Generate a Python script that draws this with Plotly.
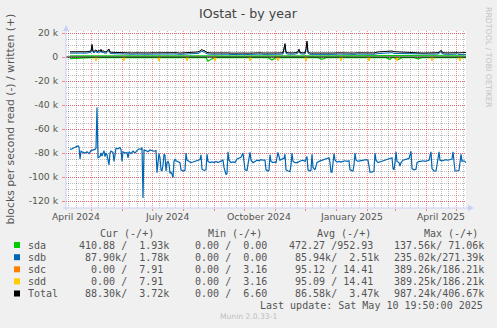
import pandas as pd
import plotly.graph_objects as go

# Time window of the yearly graph (400 days ending at the last update)
START = pd.Timestamp("2024-04-05 20:00")
END = pd.Timestamp("2025-05-10 20:00")

# sdb read rate (drawn downwards), in thousands of blocks/s, keyed by day offset from START
READ_DAYS = [4, 5, 7, 9, 11, 12, 13, 14, 15, 17, 19, 21, 23, 25, 27, 29, 30, 31, 32, 34,
             35, 36, 38, 39, 40, 41, 43, 44, 45, 47, 48, 49, 50, 52, 54, 55, 56, 57, 59, 61,
             62, 63, 65, 67, 69, 71, 73, 75, 76, 77, 78, 80, 82, 84, 86, 88, 90, 91, 92, 93,
             94, 95, 96, 97, 98, 99, 100, 101, 102, 103, 104, 105, 106, 107, 108, 109, 110, 112, 114, 115,
             117, 119, 120, 121, 123, 125, 127, 129, 131, 133, 134, 135, 136, 138, 140, 141, 142, 144, 146, 148,
             150, 152, 154, 156, 157, 158, 160, 161, 162, 163, 165, 167, 169, 171, 173, 175, 177, 178, 179, 181,
             182, 184, 185, 187, 189, 191, 193, 195, 197, 199, 200, 202, 203, 204, 205, 207, 209, 210, 212, 213,
             214, 216, 218, 219, 220, 222, 224, 225, 226, 227, 229, 231, 233, 235, 237, 239, 241, 242, 244, 245,
             246, 247, 249, 251, 253, 255, 257, 259, 261, 263, 264, 265, 266, 267, 268, 269, 271, 273, 275, 277,
             279, 281, 283, 284, 286, 287, 288, 289, 290, 292, 294, 296, 298, 300, 302, 303, 304, 306, 308, 309,
             310, 312, 314, 316, 318, 320, 322, 324, 326, 327, 328, 329, 330, 331, 333, 334, 335, 337, 339, 341,
             343, 345, 346, 348, 350, 351, 353, 355, 357, 359, 361, 363, 365, 366, 368, 370, 371, 373, 374, 376,
             378, 380, 382, 384, 386, 387, 388, 389, 391, 393, 395, 396, 398, 400]
SDB_READ_K = [-76.5, -77, -76, -75.5, -74.5, -74, -75, -85, -78.5, -79.5, -80, -79, -80.5, -78, -77.5, -77, -76, -42, -84, -83,
              -80, -82.5, -78, -83, -80, -81.5, -90, -80, -78.5, -79.5, -87, -80, -76, -76.5, -75.5, -77, -87, -79, -80, -79.5,
              -84, -79, -80.5, -78.5, -80, -78, -76.5, -77, -75.5, -117.5, -77.5, -78, -79, -77.5, -78, -78.5, -78, -96.5, -88, -80.5,
              -84, -94, -95, -90, -81, -82, -95, -88, -87, -89, -97, -96, -97.5, -100.5, -87, -85, -86.5, -87, -88, -94,
              -95, -94.5, -80, -86, -87, -88, -87.5, -87, -86.5, -86, -85.5, -81.5, -93.5, -94.5, -94, -81, -87, -88, -87.5, -88,
              -87, -88, -87, -86, -86, -92, -98, -97, -79, -86, -88, -87.5, -88, -85, -84, -83.5, -80, -88, -94, -94.5,
              -90, -79.5, -86, -88, -87, -86, -86.5, -85.5, -86, -86, -94, -95, -94.5, -81.5, -87, -88, -87.5, -88, -79.5, -84,
              -86, -85, -84.5, -81, -94, -95, -95.5, -90, -80, -87, -88, -88, -87, -86.5, -86, -87, -83, -94, -95, -94.5,
              -81, -92, -94, -88, -87, -86.5, -86, -85.5, -85, -84, -88, -96, -96, -90, -80.5, -86, -87.5, -87, -87.5, -87,
              -86.5, -87, -86.5, -94, -95, -95, -90, -80, -86, -87, -86.5, -86, -86, -85.5, -86, -92, -96, -96, -95, -80,
              -86, -88, -87.5, -87, -86.5, -86, -85.5, -85, -84, -93, -94, -88, -79, -87, -88, -91, -88, -86, -85.5, -85,
              -84.5, -78.5, -93, -94, -93.5, -88, -87, -87, -86.5, -87, -86.5, -86, -79, -93, -95, -95, -90, -79, -86, -86.5,
              -86, -85.5, -86, -85.5, -85, -79, -88, -95, -95, -94.5, -81, -87, -86.5, -87.9]

# Write rates (drawn upwards) and sda read, thousands of blocks/s
WRITE_DAYS = [4, 8, 12, 16, 20, 24, 25, 26, 27, 28, 30, 31, 33, 34, 35, 36, 37, 38, 40, 43,
              44, 46, 50, 54, 58, 62, 66, 70, 74, 78, 82, 86, 90, 94, 98, 102, 106, 110, 114, 118,
              122, 126, 130, 132, 134, 136, 137, 138, 140, 142, 146, 150, 154, 158, 162, 166, 170, 174, 178, 182,
              186, 190, 194, 198, 202, 206, 210, 214, 217, 218, 219, 220, 222, 226, 230, 232, 233, 234, 236, 239,
              240, 241, 242, 244, 248, 252, 256, 260, 264, 268, 272, 276, 280, 284, 288, 292, 296, 300, 304, 308,
              312, 316, 320, 324, 326, 328, 332, 336, 340, 344, 348, 352, 356, 360, 364, 368, 372, 374, 375, 376,
              378, 382, 386, 390, 391, 392, 396, 400]
TOTAL_WRITE_K = [4.3, 4.5, 4.2, 4.4, 4.3, 4.5, 5.0, 10.5, 5.0, 4.6, 6.0, 4.5, 5.5, 4.8, 6.4, 4.5, 5.5, 4.4, 4.3, 6.7,
                 4.2, 3.9, 3.7, 3.6, 3.5, 3.6, 3.4, 3.5, 3.3, 3.6, 3.4, 3.5, 3.6, 3.4, 3.3, 3.5, 3.4, 3.6, 3.3, 3.5,
                 3.4, 3.6, 3.5, 4.2, 5.0, 6.4, 5.2, 5.6, 4.2, 3.6, 3.4, 3.5, 3.3, 3.6, 3.4, 3.2, 3.4, 3.6, 3.3, 3.2,
                 3.4, 3.3, 3.5, 3.3, 3.2, 3.4, 3.3, 3.4, 3.6, 7.0, 11.2, 4.0, 3.5, 3.4, 3.6, 4.5, 6.5, 4.0, 3.5, 3.6,
                 7.0, 13.3, 4.2, 3.3, 3.2, 3.4, 3.3, 3.2, 3.4, 3.3, 3.5, 3.3, 3.2, 3.4, 3.3, 3.5, 3.4, 3.3, 3.2, 3.4,
                 4.2, 4.4, 4.3, 4.5, 5.0, 4.4, 4.3, 4.5, 4.4, 4.2, 3.8, 3.5, 3.3, 3.4, 3.3, 3.5, 3.6, 4.5, 5.6, 4.2,
                 3.5, 3.4, 3.3, 3.6, 4.3, 3.4, 3.6, 3.72]
SDB_WRITE_K = [3.2, 3.4, 3.1, 3.3, 3.2, 3.4, 3.9, 8.8, 3.9, 3.5, 4.8, 3.4, 4.3, 3.7, 5.2, 3.4, 4.4, 3.3, 3.2, 5.5,
               3.1, 2.8, 2.6, 2.5, 2.4, 2.5, 2.3, 2.4, 2.2, 2.5, 2.3, 2.4, 2.5, 2.3, 2.2, 2.4, 2.3, 2.5, 2.2, 2.4,
               2.3, 2.5, 2.4, 3.0, 3.8, 5.1, 4.0, 4.4, 3.0, 2.5, 2.3, 2.4, 2.2, 2.5, 2.3, 2.1, 2.3, 2.5, 2.2, 2.1,
               2.3, 2.2, 2.4, 2.2, 2.1, 2.3, 2.2, 2.3, 2.5, 5.6, 9.6, 2.9, 2.4, 2.3, 2.5, 3.4, 5.2, 2.9, 2.4, 2.5,
               5.7, 11.6, 3.1, 2.2, 2.1, 2.3, 2.2, 2.1, 2.3, 2.2, 2.4, 2.2, 2.1, 2.3, 2.2, 2.4, 2.3, 2.2, 2.1, 2.3,
               2.8, 3.0, 2.9, 3.1, 3.6, 3.0, 2.9, 3.1, 3.0, 2.9, 2.6, 2.4, 2.2, 2.3, 2.2, 2.4, 2.5, 3.4, 4.4, 3.1,
               2.4, 2.3, 2.2, 2.4, 3.1, 2.2, 2.0, 1.78]
SDA_WRITE_K = [1.0, 1.0, 1.0, 1.0, 1.0, 1.0, 1.0, 1.6, 1.0, 1.0, 1.1, 1.0, 1.1, 1.0, 1.1, 1.0, 1.0, 1.0, 1.0, 1.1,
               1.0, 1.0, 1.0, 1.0, 1.0, 1.0, 1.0, 1.0, 1.0, 1.0, 1.0, 1.0, 1.0, 1.0, 1.0, 1.0, 1.0, 1.0, 1.0, 1.0,
               1.0, 1.0, 1.0, 1.1, 1.1, 1.2, 1.1, 1.1, 1.1, 1.0, 1.0, 1.0, 0.9, 1.0, 1.0, 0.9, 1.0, 1.0, 0.9, 0.9,
               1.0, 0.9, 1.0, 0.9, 0.9, 1.0, 0.9, 1.0, 1.0, 1.3, 1.5, 1.0, 1.0, 0.9, 1.0, 1.0, 1.2, 1.0, 1.0, 1.0,
               1.2, 1.6, 1.0, 0.9, 0.9, 1.0, 0.9, 0.9, 1.0, 0.9, 1.0, 0.9, 0.9, 1.0, 0.9, 1.0, 1.0, 0.9, 0.9, 1.0,
               1.2, 1.2, 1.2, 1.2, 1.3, 1.2, 1.2, 1.2, 1.2, 1.1, 1.0, 1.0, 0.9, 1.0, 0.9, 1.0, 1.0, 1.0, 1.1, 1.0,
               1.0, 1.0, 0.9, 1.1, 1.1, 1.1, 1.5, 1.93]
SDA_READ_K = [-1.3, -1.1, -0.6, -0.5, -0.5, -0.5, -0.5, -0.6, -0.5, -0.5, -0.5, -0.5, -0.5, -0.5, -0.5, -0.5, -0.5, -0.5, -0.5, -0.5,
              -0.5, -0.5, -0.5, -0.5, -0.5, -0.5, -0.5, -0.5, -0.5, -0.5, -0.5, -0.5, -0.5, -0.5, -0.5, -0.5, -0.5, -0.5, -0.5, -0.5,
              -0.5, -0.5, -0.5, -0.5, -0.5, -0.6, -0.5, -0.5, -0.5, -3.5, -1.5, -0.5, -0.5, -0.5, -0.5, -0.5, -0.5, -0.5, -0.5, -0.5,
              -0.5, -0.5, -0.5, -0.5, -0.5, -2.4, -0.5, -0.5, -0.5, -0.5, -0.6, -0.5, -0.5, -0.5, -0.5, -0.5, -0.5, -0.5, -0.5, -0.5,
              -0.5, -0.6, -0.5, -0.5, -0.5, -0.5, -2.0, -0.5, -0.5, -0.5, -0.5, -0.5, -0.5, -0.5, -0.5, -0.5, -0.5, -0.5, -0.5, -0.5,
              -0.5, -0.5, -0.5, -2.0, -0.5, -0.5, -2.2, -0.5, -0.5, -0.5, -0.5, -1.5, -0.5, -0.5, -0.5, -0.5, -0.5, -0.5, -0.5, -0.5,
              -0.5, -0.5, -0.5, -0.5, -0.5, -0.5, -0.5, -0.41]

# Monthly sdc / sdd read bursts (daily averages), thousands of blocks/s
SPIKE_DAYS = [30, 58, 93, 121, 149, 184, 212, 240, 275, 303, 331, 366, 394]
SDC_READ_K = [-3.0, -2.9, -3.1, -2.9, -3.0, -2.9, -3.0, -3.1, -2.9, -3.0, -2.9, -3.0, -3.0]
SDD_READ_K = [-3.0, -2.9, -3.1, -2.9, -3.0, -2.9, -3.0, -3.1, -2.9, -3.0, -2.9, -3.0, -3.0]

Y_TICKS = [-120000, -100000, -80000, -60000, -40000, -20000, 0, 20000]
Y_TICK_TEXT = ["-120 k", "-100 k", "-80 k", "-60 k", "-40 k", "-20 k", "0", "20 k"]
X_LABEL_DATES = ["2024-04-16", "2024-07-16", "2024-10-16", "2025-01-16", "2025-04-16"]
X_LABELS = ["April 2024", "July 2024", "October 2024", "January 2025", "April 2025"]

# Legend table
LEG_NAMES = ["sda", "sdb", "sdc", "sdd", "Total"]
LEG_COLORS = ["#00CC00", "#0066B3", "#FF8000", "#FFCC00", "#000000"]
LEG_CUR = ["410.88 /  1.93k", " 87.90k/  1.78k", "  0.00 /  7.91", "  0.00 /  7.91", " 88.30k/  3.72k"]
LEG_MIN = ["  0.00 /  0.00", "  0.00 /  0.00", "  0.00 /  3.16", "  0.00 /  3.16", "  0.00 /  6.60"]
LEG_AVG = ["472.27 /952.93", " 85.94k/  2.51k", " 95.12 / 14.41", " 95.09 / 14.41", " 86.58k/  3.47k"]
LEG_MAX = ["137.56k/ 71.06k", "235.02k/271.39k", "389.26k/186.21k", "389.25k/186.21k", "987.24k/406.67k"]
LEG_HEAD = ["Cur (-/+)", "Min (-/+)", "Avg (-/+)", "Max (-/+)"]

W, H = 497, 328
PX0, PX1, PY0, PY1 = 66, 466, 31, 208   # plot area in pixels


def px(x):
    return (x - PX0) / (PX1 - PX0)


def py(y):
    return (PY1 - y) / (PY1 - PY0)


def dates(days):
    return [START + pd.Timedelta(days=d) for d in days]


def kilo(vals):
    return [v * 1000 for v in vals]


def spikes(days, peaks):
    xs, ys = [], []
    for d, v in zip(days, peaks):
        xs += [START + pd.Timedelta(days=d - 1), START + pd.Timedelta(days=d),
               START + pd.Timedelta(days=d + 1), None]
        ys += [0, v * 1000, 0, None]
    return xs, ys


fig = go.Figure()


def line(x, y, color, width=1.0):
    fig.add_trace(go.Scatter(x=x, y=y, mode="lines", line=dict(color=color, width=width),
                             connectgaps=False, hoverinfo="skip", showlegend=False))


line(dates(WRITE_DAYS), kilo(SDA_WRITE_K), "#00CC00")
line(dates(WRITE_DAYS), kilo(SDA_READ_K), "#00CC00", 1.3)
line(dates(WRITE_DAYS), kilo(SDB_WRITE_K), "#0066B3")
line(dates(READ_DAYS), kilo(SDB_READ_K), "#0066B3", 1.2)
sx, sy = spikes(SPIKE_DAYS, SDC_READ_K)
line(sx, sy, "#FF8000")
sx, sy = spikes(SPIKE_DAYS, SDD_READ_K)
line(sx, sy, "#FFCC00", 1.2)
line(dates(WRITE_DAYS), kilo(TOTAL_WRITE_K), "#000000")

# grid positions: month starts (major) and quarter months (minor)
month_starts = pd.date_range("2024-04-01", "2025-06-01", freq="MS")
major_x = [m for m in month_starts if START <= m <= END]
minor_x = []
for a, b in zip(month_starts[:-1], month_starts[1:]):
    step = (b - a) / 4
    for k in (1, 2, 3):
        t = a + step * k
        if START <= t <= END:
            minor_x.append(t)

MAJOR_GRID = "rgba(255,0,0,0.45)"
MINOR_GRID = "rgba(0,0,0,0.25)"
AXIS_COL = "#C8D0F4"
TXT = "#555555"
MONO = "DejaVu Sans Mono"
SANS = "DejaVu Sans"

fig.update_xaxes(type="date", range=[START, END], tickvals=major_x, showticklabels=False,
                 showgrid=True, gridcolor=MAJOR_GRID, griddash="1px,1px", gridwidth=1,
                 ticks="outside", ticklen=2, tickcolor=MAJOR_GRID, showline=False, zeroline=False,
                 minor=dict(tickvals=minor_x, showgrid=True, gridcolor=MINOR_GRID,
                            griddash="1px,1px", gridwidth=1, ticks=""))
fig.update_yaxes(range=[-125833, 21667], tickvals=Y_TICKS, ticktext=Y_TICK_TEXT,
                 showgrid=True, gridcolor=MAJOR_GRID, griddash="1px,1px", gridwidth=1,
                 ticks="outside", ticklen=3, tickcolor=MAJOR_GRID, zeroline=False, showline=False,
                 tickfont=dict(family=SANS, size=9.3, color=TXT), ticklabelstandoff=2,
                 minor=dict(dtick=5000, tick0=0, showgrid=True, gridcolor=MINOR_GRID,
                            griddash="1px,1px", gridwidth=1, ticks=""))

shapes = []
# zero line
shapes.append(dict(type="line", xref="paper", yref="y", x0=0, x1=1, y0=0, y1=0,
                   line=dict(color="#000000", width=1), layer="above"))
# axes with arrows
shapes.append(dict(type="line", xref="paper", yref="paper", x0=px(66), x1=px(66), y0=py(210), y1=py(28),
                   line=dict(color=AXIS_COL, width=1), layer="above"))
shapes.append(dict(type="line", xref="paper", yref="paper", x0=px(63), x1=px(470), y0=py(208), y1=py(208),
                   line=dict(color=AXIS_COL, width=1), layer="above"))
shapes.append(dict(type="path", xref="paper", yref="paper",
                   path=f"M {px(63)} {py(31)} L {px(69)} {py(31)} L {px(66)} {py(25)} Z",
                   fillcolor=AXIS_COL, line=dict(width=0), layer="above"))
shapes.append(dict(type="path", xref="paper", yref="paper",
                   path=f"M {px(468)} {py(205)} L {px(468)} {py(211)} L {px(474)} {py(208)} Z",
                   fillcolor=AXIS_COL, line=dict(width=0), layer="above"))

annotations = []


def text(x, y, s, size, family=SANS, color=TXT, xanchor="left", angle=0):
    annotations.append(dict(xref="paper", yref="paper", x=px(x), y=py(y), text=s.replace(" ", "\u00a0"),
                            showarrow=False, xanchor=xanchor, yanchor="middle", textangle=angle,
                            font=dict(family=family, size=size, color=color), borderpad=0))


text(248, 13, "IOstat - by year", 12.6, xanchor="center", color="#444444")
text(10, 119.5, "blocks per second read (-) / written (+)", 10.8, xanchor="center", angle=-90)
text(489, 57, "RRDTOOL / TOBI OETIKER", 7.8, xanchor="center", color="#C4C4C4", angle=90)

for d, lab in zip(X_LABEL_DATES, X_LABELS):
    annotations.append(dict(xref="x", yref="paper", x=d, y=py(216.5), text=lab, showarrow=False,
                            xanchor="center", yanchor="middle",
                            font=dict(family=SANS, size=9.3, color=TXT), borderpad=0))

ROW_Y = [245, 257.2, 269.3, 281.4, 293.5]
COL_X = [77.5, 182.3, 287.7, 392.7]
HEAD_X = [98.7, 207.3, 316, 423.3]
for hx, h in zip(HEAD_X, LEG_HEAD):
    text(hx, 233.3, h, 10, family=MONO)
for i, name in enumerate(LEG_NAMES):
    y = ROW_Y[i]
    shapes.append(dict(type="rect", xref="paper", yref="paper", x0=px(14), x1=px(20),
                       y0=py(y + 3), y1=py(y - 3), fillcolor=LEG_COLORS[i], line=dict(width=0)))
    text(27, y, name, 10, family=MONO)
    for cx, col in zip(COL_X, (LEG_CUR, LEG_MIN, LEG_AVG, LEG_MAX)):
        text(cx, y, col[i], 10, family=MONO)
text(483.5, 305.7, "Last update: Sat May 10 19:50:00 2025", 10, family=MONO, xanchor="right")
text(248, 316.8, "Munin 2.0.33-1", 7.6, xanchor="center", color="#BDBDBD")

fig.update_layout(width=W, height=H, autosize=False,
                  margin=dict(l=PX0, r=W - PX1, t=PY0, b=H - PY1, pad=0),
                  paper_bgcolor="#F0F0F0", plot_bgcolor="#FFFFFF",
                  shapes=shapes, annotations=annotations, showlegend=False)

fig.write_html("out.html")
